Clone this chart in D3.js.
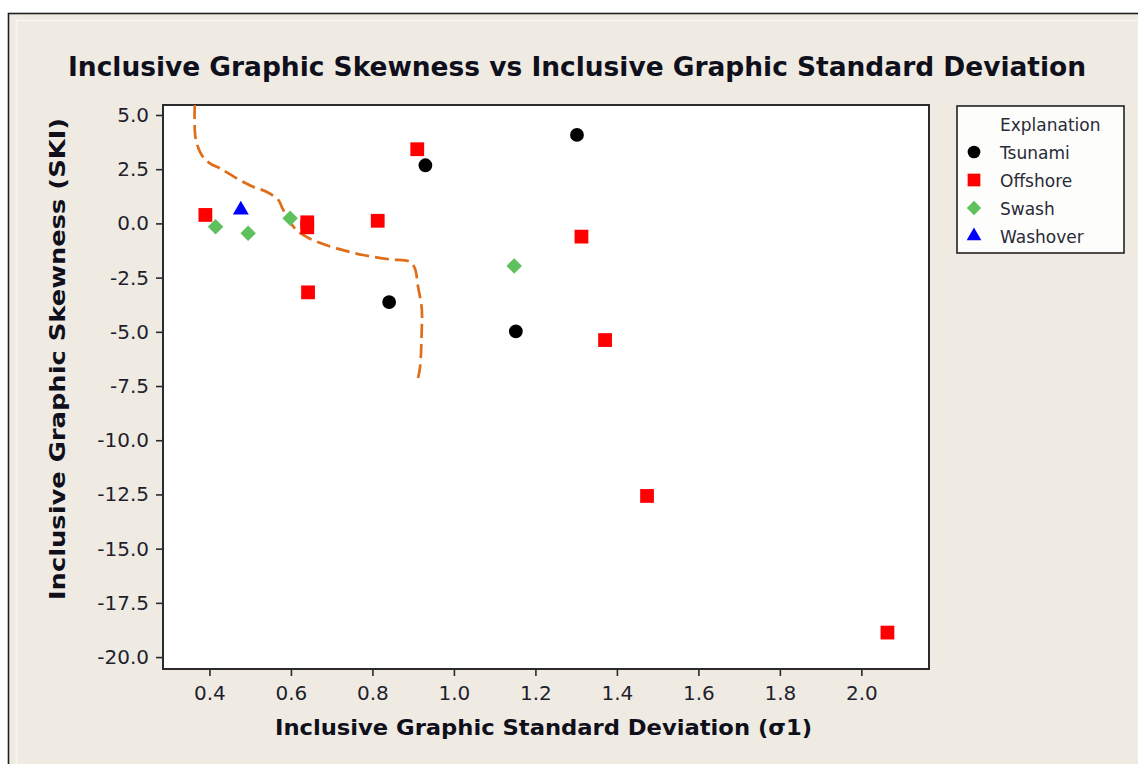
<!DOCTYPE html>
<html>
<head>
<meta charset="utf-8">
<script src="https://cdn.jsdelivr.net/npm/d3@7"></script>
<style>
  html, body { margin: 0; padding: 0; background: #ffffff; }
  svg { display: block; }
  text { font-family: "DejaVu Sans Condensed", "DejaVu Sans", sans-serif; }
</style>
</head>
<body>
<svg id="chart" width="1138" height="764"></svg>
<script>
// Sample groups: inclusive graphic standard deviation (x) vs skewness (y)
const tsunamiX   = [1.302, 0.930, 0.841, 1.152];
const tsunamiY   = [4.08, 2.68, -3.63, -4.98];

const offshoreX  = [0.390, 0.910, 0.640, 0.640, 0.813, 0.642, 1.313, 1.371, 1.474, 2.064];
const offshoreY  = [0.39, 3.42, 0.05, -0.18, 0.12, -3.18, -0.61, -5.38, -12.57, -18.87];

const swashX     = [0.415, 0.495, 0.598, 1.148];
const swashY     = [-0.15, -0.46, 0.24, -1.96];

const washoverX  = [0.477];
const washoverY  = [0.62];

// Hand-drawn dashed boundary around the low-sorting cluster
const boundaryX  = [0.364, 0.366, 0.381, 0.401, 0.426, 0.471, 0.507, 0.540, 0.569, 0.581,
                    0.606, 0.630, 0.663, 0.712, 0.777, 0.843, 0.892, 0.904, 0.912, 0.921,
                    0.921, 0.917, 0.912];
const boundaryY  = [5.46, 3.93, 3.155, 2.77, 2.54, 2.03, 1.69, 1.46, 1.08, 0.62,
                    -0.15, -0.53, -0.84, -1.15, -1.46, -1.66, -1.77, -2.07, -2.92, -3.92,
                    -4.92, -6.61, -7.13];

const xTicks = [0.4, 0.6, 0.8, 1.0, 1.2, 1.4, 1.6, 1.8, 2.0];
const yTicks = [5.0, 2.5, 0.0, -2.5, -5.0, -7.5, -10.0, -12.5, -15.0, -17.5, -20.0];

const seriesNames = ["Tsunami", "Offshore", "Swash", "Washover"];

const svg = d3.select("#chart");

// Outer panel
svg.append("rect")
  .attr("x", 8.5).attr("y", 13.5).attr("width", 1200).attr("height", 800)
  .attr("fill", "#efebe3").attr("stroke", "#1e1e1e").attr("stroke-width", 1.6);
svg.append("rect")
  .attr("x", 16.5).attr("y", 20.5).attr("width", 1200).attr("height", 800)
  .attr("fill", "none").attr("stroke", "#f7f5ef").attr("stroke-width", 1.5);

const plot = { left: 163, top: 105, right: 929, bottom: 669 };

const x = d3.scaleLinear().domain([0.286, 2.166]).range([plot.left, plot.right]);
const y = d3.scaleLinear().domain([-20.55, 5.46]).range([plot.bottom, plot.top]);

// Plot area
svg.append("rect")
  .attr("x", plot.left).attr("y", plot.top)
  .attr("width", plot.right - plot.left).attr("height", plot.bottom - plot.top)
  .attr("fill", "#ffffff");

svg.append("defs").append("clipPath").attr("id", "plotClip")
  .append("rect")
  .attr("x", plot.left).attr("y", plot.top)
  .attr("width", plot.right - plot.left).attr("height", plot.bottom - plot.top);

// Axes (plain hyphen-minus for negative labels)
const locale = d3.formatLocale({ decimal: ".", thousands: ",", grouping: [3], currency: ["", ""], minus: "-" });
const fmt = locale.format(".1f");
const xAxis = svg.append("g")
  .attr("transform", `translate(0,${plot.bottom})`)
  .call(d3.axisBottom(x).tickValues(xTicks).tickFormat(fmt).tickSize(7).tickPadding(10));
const yAxis = svg.append("g")
  .attr("transform", `translate(${plot.left},0)`)
  .call(d3.axisLeft(y).tickValues(yTicks).tickFormat(fmt).tickSize(7).tickPadding(7));

[xAxis, yAxis].forEach(g => {
  g.select(".domain").remove();
  g.selectAll(".tick line").attr("stroke", "#2a2a2a").attr("stroke-width", 1.6);
  g.selectAll(".tick text")
    .attr("fill", "#1f1f2e")
    .style("font-size", "20px")
    .style("font-family", "'DejaVu Sans', sans-serif");
});

// Plot border
svg.append("rect")
  .attr("x", plot.left).attr("y", plot.top)
  .attr("width", plot.right - plot.left).attr("height", plot.bottom - plot.top)
  .attr("fill", "none").attr("stroke", "#2b2b2b").attr("stroke-width", 2);

// Boundary curve
const boundary = boundaryX.map((v, i) => [v, boundaryY[i]]);
svg.append("path")
  .attr("clip-path", "url(#plotClip)")
  .attr("d", d3.line().x(d => x(d[0])).y(d => y(d[1])).curve(d3.curveCatmullRom.alpha(0.5))(boundary))
  .attr("fill", "none")
  .attr("stroke", "#e06d18")
  .attr("stroke-width", 2.7)
  .attr("stroke-dasharray", "14,6");

// Point symbols
const symbols = {
  Tsunami:  { type: d3.symbolCircle,   size: 150, color: "#000000", rotate: 0 },
  Offshore: { type: d3.symbolSquare,   size: 190, color: "#ff0000", rotate: 0 },
  Swash:    { type: d3.symbolSquare,   size: 120, color: "#5ec15e", rotate: 45 },
  Washover: { type: d3.symbolTriangle, size: 110, color: "#0000ff", rotate: 0 }
};

const seriesData = {
  Tsunami:  tsunamiX.map((v, i) => [v, tsunamiY[i]]),
  Offshore: offshoreX.map((v, i) => [v, offshoreY[i]]),
  Swash:    swashX.map((v, i) => [v, swashY[i]]),
  Washover: washoverX.map((v, i) => [v, washoverY[i]])
};

seriesNames.forEach(name => {
  const s = symbols[name];
  svg.append("g").attr("class", "series-" + name)
    .selectAll("path")
    .data(seriesData[name])
    .join("path")
    .attr("d", d3.symbol().type(s.type).size(s.size))
    .attr("transform", d => `translate(${x(d[0])},${y(d[1])}) rotate(${s.rotate})`)
    .attr("fill", s.color);
});

// Title and axis titles
svg.append("text")
  .attr("x", 577).attr("y", 76)
  .attr("text-anchor", "middle")
  .attr("textLength", 1018).attr("lengthAdjust", "spacingAndGlyphs")
  .style("font-size", "27px").style("font-weight", "bold").attr("fill", "#10101c")
  .text("Inclusive Graphic Skewness vs Inclusive Graphic Standard Deviation");

svg.append("text")
  .attr("x", 543.5).attr("y", 735)
  .attr("text-anchor", "middle")
  .attr("textLength", 537).attr("lengthAdjust", "spacingAndGlyphs")
  .style("font-size", "22px").style("font-weight", "bold").attr("fill", "#10101c")
  .text("Inclusive Graphic Standard Deviation (σ1)");

svg.append("text")
  .attr("transform", "translate(65,359) rotate(-90)")
  .attr("text-anchor", "middle")
  .attr("textLength", 482).attr("lengthAdjust", "spacingAndGlyphs")
  .style("font-size", "22px").style("font-weight", "bold").attr("fill", "#10101c")
  .text("Inclusive Graphic Skewness (SKI)");

// Legend
const legend = svg.append("g");
legend.append("rect")
  .attr("x", 957).attr("y", 106).attr("width", 167).attr("height", 147)
  .attr("fill", "#fdfdfb").attr("stroke", "#222").attr("stroke-width", 1.6);
legend.append("text")
  .attr("x", 1000).attr("y", 131)
  .style("font-size", "17px").style("font-family", "'DejaVu Sans', sans-serif").attr("fill", "#2a2a38")
  .text("Explanation");

seriesNames.forEach((name, i) => {
  const s = symbols[name];
  const cy = 152 + i * 28;
  legend.append("path")
    .attr("d", d3.symbol().type(s.type).size(s.size * 0.85)())
    .attr("transform", `translate(974,${cy}) rotate(${s.rotate})`)
    .attr("fill", s.color);
  legend.append("text")
    .attr("x", 1000).attr("y", cy + 7)
    .style("font-size", "17px").style("font-family", "'DejaVu Sans', sans-serif").attr("fill", "#2a2a38")
    .text(name);
});
</script>
</body>
</html>
